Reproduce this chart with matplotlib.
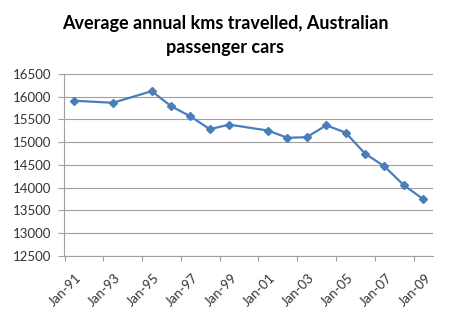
import datetime as dt
import matplotlib
matplotlib.use("Agg")
import matplotlib.pyplot as plt
import matplotlib.dates as mdates
import matplotlib.transforms as mtransforms

# survey dates and average kms per car
dates = [dt.date(1991, 7, 1), dt.date(1993, 7, 1), dt.date(1995, 7, 1), dt.date(1996, 7, 1),
         dt.date(1997, 7, 1), dt.date(1998, 7, 1), dt.date(1999, 7, 1), dt.date(2001, 7, 1),
         dt.date(2002, 7, 1), dt.date(2003, 7, 1), dt.date(2004, 7, 1), dt.date(2005, 7, 1),
         dt.date(2006, 7, 1), dt.date(2007, 7, 1), dt.date(2008, 7, 1), dt.date(2009, 7, 1)]
kms = [15910, 15865, 16120, 15790, 15565, 15285, 15385, 15255,
       15095, 15110, 15370, 15210, 14750, 14470, 14055, 13750]

tick_dates = [dt.date(y, 1, 1) for y in range(1991, 2010, 2)]
y_ticks = list(range(12500, 17000, 500))

plt.rcParams['font.family'] = ['Lato', 'DejaVu Sans']

fig = plt.figure(figsize=(4.5, 3.24), dpi=100)
ax = fig.add_axes([0.142, 0.21, 0.82, 0.562])

ax.plot(dates, kms, color='#4A7EBB', linewidth=1.6, marker='D', markersize=4.2,
        markerfacecolor='#4A7EBB', markeredgecolor='#4A7EBB')

ax.set_ylim(12500, 16500)
ax.set_yticks(y_ticks)
ax.set_xlim(dt.date(1990, 12, 20), dt.date(2010, 1, 1))
ax.set_xticks(tick_dates)
ax.xaxis.set_major_formatter(mdates.DateFormatter('Jan-%y'))

ax.grid(axis='y', color='#A0A0A0', linewidth=0.8)
ax.set_axisbelow(True)
for s in ['top', 'right']:
    ax.spines[s].set_visible(False)
for s in ['left', 'bottom']:
    ax.spines[s].set_color('#A0A0A0')
    ax.spines[s].set_linewidth(0.8)

ax.tick_params(axis='y', length=4, color='#A0A0A0', labelsize=9.5, labelcolor='#333333', pad=5)
ax.tick_params(axis='x', length=3.5, color='#A0A0A0', labelsize=9.5, labelcolor='#333333', pad=2)
offset = mtransforms.ScaledTranslation(0.11, -0.08, fig.dpi_scale_trans)
for lab in ax.get_xticklabels():
    lab.set_rotation(45)
    lab.set_ha('right')
    lab.set_rotation_mode('anchor')
    lab.set_transform(lab.get_transform() + offset)

fig.suptitle('Average annual kms travelled, Australian\npassenger cars',
             fontsize=13, fontweight='bold', x=0.5, y=0.955, linespacing=1.5)

fig.savefig('out.png', dpi=100, facecolor='white')
